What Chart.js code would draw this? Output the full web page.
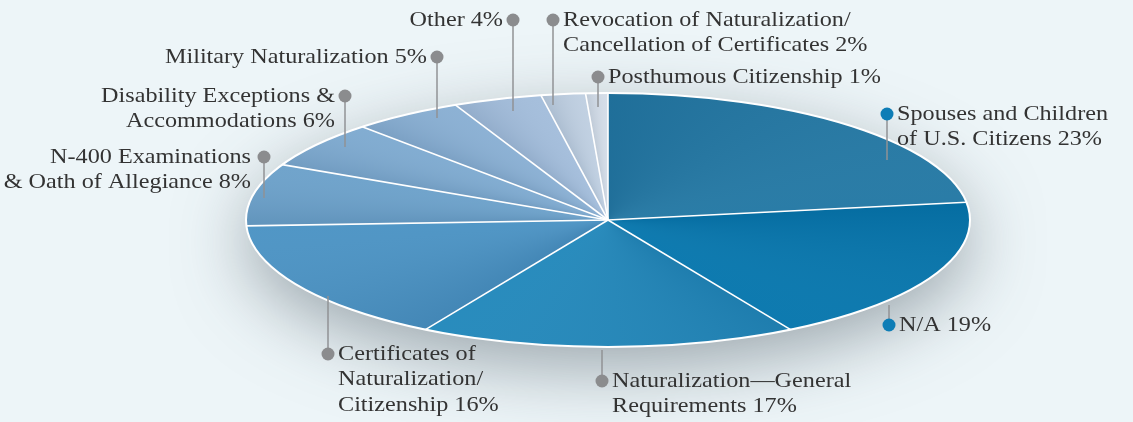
<!DOCTYPE html>
<html>
<head>
<meta charset="utf-8">
<script src="https://cdn.jsdelivr.net/npm/chart.js@4.4.1/dist/chart.umd.min.js"></script>
<style>
  html, body { margin: 0; padding: 0; background: #edf5f8; }
  #wrap { width: 1133px; height: 422px; }
</style>
</head>
<body>
<div id="wrap"><canvas id="pieChart" width="1133" height="422"></canvas></div>
<script>
// Categories in drawing order, clockwise from 12 o'clock
const categories = [
    'Spouses and Children of U.S. Citizens',
    'N/A',
    'Naturalization\u2014General Requirements',
    'Certificates of Naturalization/Citizenship',
    'N-400 Examinations & Oath of Allegiance',
    'Disability Exceptions & Accommodations',
    'Military Naturalization',
    'Other',
    'Revocation of Naturalization/Cancellation of Certificates',
    'Posthumous Citizenship'
];
const shares = [23, 19, 17, 16, 8, 6, 5, 4, 2, 1];

// How each label wraps; the share gets appended to the last line
const labelLines = [
    ['Spouses and Children', 'of U.S. Citizens'],
    ['N/A'],
    ['Naturalization\u2014General', 'Requirements'],
    ['Certificates of', 'Naturalization/', 'Citizenship'],
    ['N-400 Examinations', '& Oath of Allegiance'],
    ['Disability Exceptions &', 'Accommodations'],
    ['Military Naturalization'],
    ['Other'],
    ['Revocation of Naturalization/', 'Cancellation of Certificates'],
    ['Posthumous Citizenship']
];

const sliceColors = ['#2378a4', '#0676ad', '#2288bb', '#4b93c4', '#6ca1ca',
                     '#7eaad0', '#89afd3', '#a3bddb', '#bfcfe1', '#d4dde8'];

// Label callout layout, offsets from the pie centre: dot position, end of the
// leader line (y), and which side of the dot the text sits on
const labelLayout = [
    { dx: 279, dy: -106, lineTo: -60, side: 'right', dot: '#0e7db6' },
    { dx: 281, dy: 105, lineTo: 85, side: 'right', dot: '#0e7db6' },
    { dx: -6, dy: 161, lineTo: 130, side: 'right' },
    { dx: -280, dy: 134, lineTo: 76, side: 'right' },
    { dx: -344, dy: -63, lineTo: -22, side: 'left', textDx: -13 },
    { dx: -263, dy: -124, lineTo: -73, side: 'left' },
    { dx: -171, dy: -163, lineTo: -102, side: 'left' },
    { dx: -95, dy: -200, lineTo: -109, side: 'left' },
    { dx: -55, dy: -200, lineTo: -115, side: 'right' },
    { dx: -10, dy: -143, lineTo: -113, side: 'right' }
];

const SQUASH = 127 / 362; // vertical squeeze that turns the circle into the ellipse

// Draws the pie as a flattened ellipse with a soft drop shadow
const ellipsePie = {
    id: 'ellipsePie',
    beforeDatasetsDraw(chart) {
        const ctx = chart.ctx;
        const { x, y, outerRadius } = chart.getDatasetMeta(0).data[0];
        ctx.save();
        ctx.shadowColor = 'rgba(75, 90, 100, 0.5)';
        ctx.shadowBlur = 70;
        ctx.shadowOffsetY = 22;
        ctx.beginPath();
        ctx.ellipse(x, y, outerRadius - 1, outerRadius * SQUASH - 1, 0, 0, Math.PI * 2);
        ctx.fillStyle = '#ffffff';
        ctx.fill();
        ctx.restore();

        ctx.save();
        ctx.translate(x, y);
        ctx.scale(1, SQUASH);
        ctx.translate(-x, -y);
    },
    afterDatasetsDraw(chart) {
        const ctx = chart.ctx;
        const arcs = chart.getDatasetMeta(0).data;
        const { x, y, outerRadius } = arcs[0];

        // shading: each slice a little darker along its leading edge
        arcs.forEach(a => {
            const span = (a.endAngle - a.startAngle) / (Math.PI * 2);
            const g = ctx.createConicGradient(a.startAngle, x, y);
            g.addColorStop(0, 'rgba(0, 30, 60, 0.1)');
            g.addColorStop(Math.min(span, 1), 'rgba(255, 255, 255, 0.03)');
            ctx.beginPath();
            ctx.moveTo(x, y);
            ctx.arc(x, y, outerRadius, a.startAngle, a.endAngle);
            ctx.closePath();
            ctx.fillStyle = g;
            ctx.fill();
        });
        ctx.restore();

        // white separators between slices
        ctx.save();
        ctx.strokeStyle = '#ffffff';
        ctx.lineWidth = 1.6;
        arcs.forEach(a => {
            ctx.beginPath();
            ctx.moveTo(x, y);
            ctx.lineTo(x + outerRadius * Math.cos(a.startAngle),
                       y + outerRadius * SQUASH * Math.sin(a.startAngle));
            ctx.stroke();
        });
        ctx.lineWidth = 2;
        ctx.beginPath();
        ctx.ellipse(x, y, outerRadius, outerRadius * SQUASH, 0, 0, Math.PI * 2);
        ctx.stroke();
        ctx.restore();
    },
    afterDraw(chart) {
        const ctx = chart.ctx;
        const { x, y } = chart.getDatasetMeta(0).data[0];
        ctx.save();
        ctx.font = '22px "Liberation Serif", "DejaVu Serif", serif';
        ctx.textBaseline = 'middle';
        labelLayout.forEach((l, i) => {
            const px = x + l.dx, py = y + l.dy;
            // leader line
            ctx.strokeStyle = '#909294';
            ctx.lineWidth = 1.5;
            ctx.beginPath();
            ctx.moveTo(px, py);
            ctx.lineTo(px, y + l.lineTo);
            ctx.stroke();
            // dot
            ctx.fillStyle = l.dot || '#8b8c8e';
            ctx.beginPath();
            ctx.arc(px, py, 6.5, 0, Math.PI * 2);
            ctx.fill();
            // text, stretched a little to match the wide book face
            const lines = labelLines[i].slice();
            lines[lines.length - 1] += ' ' + shares[i] + '%';
            ctx.fillStyle = '#333333';
            ctx.textAlign = l.side === 'right' ? 'left' : 'right';
            const tx = l.side === 'right' ? px + 10 : px + (l.textDx || -10);
            lines.forEach((t, j) => {
                ctx.save();
                ctx.translate(tx, py + j * 25.5);
                ctx.scale(1.1, 1);
                ctx.fillText(t, 0, 0);
                ctx.restore();
            });
        });
        ctx.restore();
    }
};

new Chart(document.getElementById('pieChart'), {
    type: 'pie',
    data: {
        labels: categories,
        datasets: [{
            data: shares,
            backgroundColor: sliceColors,
            borderWidth: 0
        }]
    },
    options: {
        responsive: false,
        animation: false,
        events: [],
        radius: 362,
        layout: { padding: { left: 83, top: 18, right: 0, bottom: 0 } },
        plugins: {
            legend: { display: false },
            tooltip: { enabled: false }
        }
    },
    plugins: [ellipsePie]
});
</script>
</body>
</html>
